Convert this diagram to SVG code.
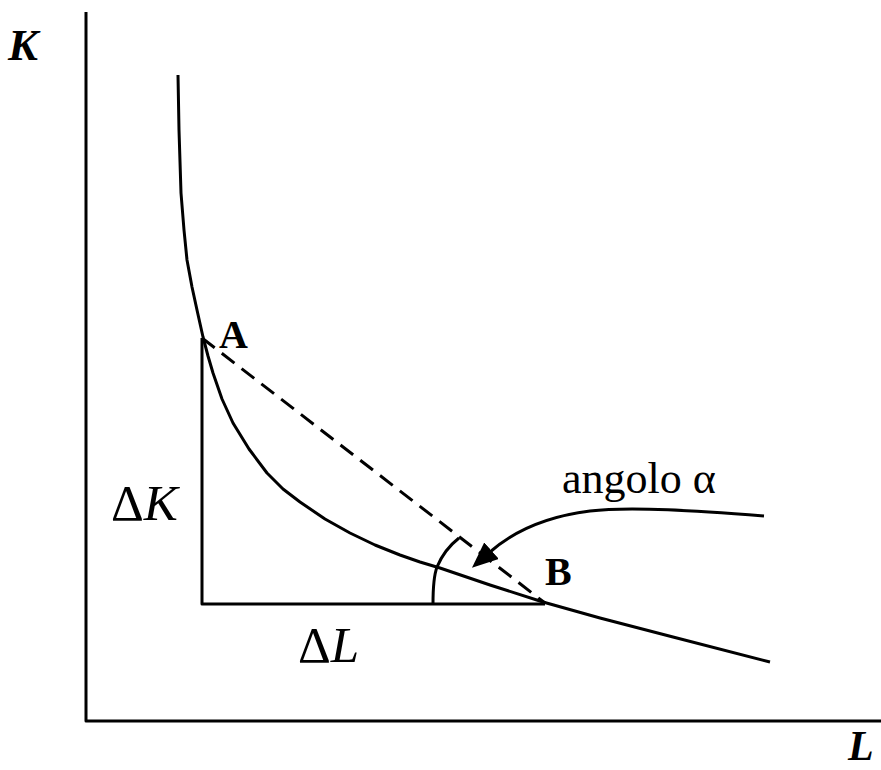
<svg xmlns="http://www.w3.org/2000/svg" width="881" height="770" viewBox="0 0 881 770">
<style>
.ln{fill:none;stroke:#000;stroke-width:3;stroke-linejoin:round}
.t{font-family:"Liberation Serif",serif;fill:#000}
</style>
<defs>
<marker id="ah" viewBox="0 0 26 22" refX="2" refY="11" markerWidth="26" markerHeight="22" orient="auto" markerUnits="userSpaceOnUse">
<path d="M0,0 L26,11 L0,22 z" fill="#000"/>
</marker>
</defs>
<g id="axes">
<path class="ln" d="M86,12 L86,721 L881,721"/>
</g>
<g id="labels">
<text class="t" x="8" y="60" font-size="45" font-weight="bold" font-style="italic">K</text>
<text class="t" x="848" y="760" font-size="42" font-weight="bold" font-style="italic">L</text>
<text class="t" x="219" y="348" font-size="40" font-weight="bold">A</text>
<text class="t" x="545" y="585" font-size="40" font-weight="bold">B</text>
<text class="t" x="562" y="493" font-size="44">angolo α</text>
<text class="t" x="111" y="520" font-size="51">Δ<tspan font-style="italic">K</tspan></text>
<text class="t" x="298" y="662" font-size="51">Δ<tspan font-style="italic">L</tspan></text>
</g>
<g id="curve">
<polyline class="ln" points="178,75 179,130 181,193 184,230 187,260 192,287 197,310 203,337 208,356 213,373 222,399 233,423 249,449 267,473 283,489 300,502 325,519 350,533 375,545 400,555 420,562 440,568 490,585 543,602 600,618 673,637 770,662"/>
</g>
<g id="connectors">
<path class="ln" d="M202,338 L202,604 L545,604"/>
<path class="ln" d="M202,338 L545,603" stroke-dasharray="16,9"/>
<path class="ln" d="M433,604 C433,588 434,575 437,567 C442,555 450,545 459,538"/>
<path class="ln" d="M764,516 C700,511 630,506 590,511 C550,516 515,530 490,552" marker-end="url(#ah)"/>
</g>
</svg>
